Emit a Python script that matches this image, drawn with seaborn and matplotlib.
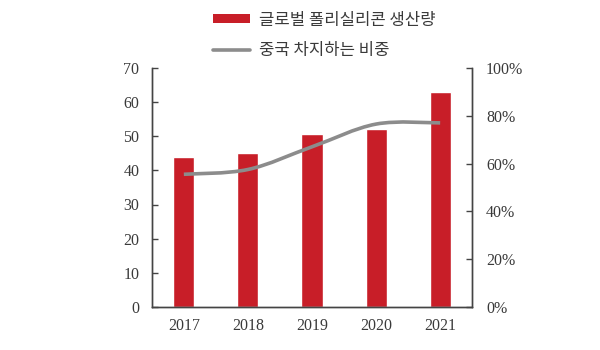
import numpy as np
import pandas as pd
import seaborn as sns
import matplotlib
matplotlib.use("Agg")
import matplotlib.pyplot as plt
from matplotlib.path import Path
from matplotlib.patches import PathPatch, Patch
from matplotlib.lines import Line2D

years = ["2017", "2018", "2019", "2020", "2021"]
production = [44, 45, 50.5, 52, 63]          # 글로벌 폴리실리콘 생산량
china_share = [55.5, 57.5, 67, 76.5, 77]      # 중국 차지하는 비중 (%)

bar_label = "글로벌 폴리실리콘 생산량"
line_label = "중국 차지하는 비중"

RED = "#C81E28"
GREY = "#8C8C8C"
TEXT = "#3A3A3A"

sns.set_theme(style="white")
plt.rcParams["font.family"] = ["Liberation Serif", "DejaVu Sans"]

fig = plt.figure(figsize=(6, 3.5), dpi=100)
ax = fig.add_axes([0.253, 0.123, 0.534, 0.683])

df = pd.DataFrame({"year": years, "production": production})
sns.barplot(data=df, x="year", y="production", color=RED, width=0.33,
            saturation=1, ax=ax)

ax.set_ylim(0, 70)
ax.set_yticks(range(0, 71, 10))
ax.set_xlim(-0.5, len(years) - 0.5)
ax.set_xlabel("")
ax.set_ylabel("")

ax2 = ax.twinx()
ax2.set_ylim(0, 100)
ax2.set_yticks(range(0, 101, 20))
ax2.set_yticklabels([f"{v}%" for v in range(0, 101, 20)])

# smooth share curve: Catmull-Rom segments rendered as cubic Bezier curves
xs = np.arange(len(years), dtype=float)
ys = np.asarray(china_share, dtype=float)
verts = [(xs[0], ys[0])]
codes = [Path.MOVETO]
n = len(xs)
for i in range(n - 1):
    p0 = np.array([xs[max(i - 1, 0)], ys[max(i - 1, 0)]])
    p1 = np.array([xs[i], ys[i]])
    p2 = np.array([xs[i + 1], ys[i + 1]])
    p3 = np.array([xs[min(i + 2, n - 1)], ys[min(i + 2, n - 1)]])
    c1 = p1 + (p2 - p0) / 6.0
    c2 = p2 - (p3 - p1) / 6.0
    verts += [tuple(c1), tuple(c2), tuple(p2)]
    codes += [Path.CURVE4] * 3
ax2.add_patch(PathPatch(Path(verts, codes), facecolor="none", edgecolor=GREY,
                        lw=2.6, capstyle="butt", zorder=3))

for a in (ax, ax2):
    for s in a.spines.values():
        s.set_color("#444444")
        s.set_linewidth(1.0)
    a.spines["top"].set_visible(False)
    a.tick_params(axis="y", direction="in", length=4, width=1.0,
                  colors="#444444", labelcolor=TEXT, labelsize=11.5)
    a.grid(False)
ax.tick_params(axis="y", pad=9)
ax2.tick_params(axis="y", pad=10)
ax.tick_params(axis="x", length=0, labelcolor=TEXT, labelsize=11.5, pad=8)

handles = [Patch(facecolor=RED, edgecolor="none", label=bar_label),
           Line2D([0], [0], color=GREY, lw=2.6, label=line_label)]
fig.legend(handles=handles, loc="upper left", bbox_to_anchor=(0.33, 1.01),
           frameon=False, handlelength=2.2, handleheight=0.4,
           handletextpad=0.55, labelspacing=0.8,
           prop={"family": ["Noto Sans CJK KR"], "size": 12},
           labelcolor=TEXT)

fig.savefig("out.png", dpi=100)
